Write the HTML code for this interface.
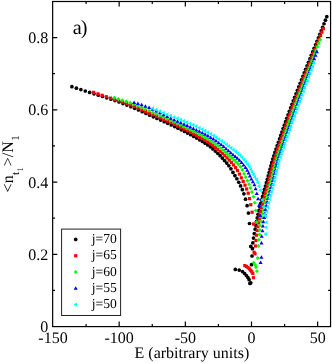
<!DOCTYPE html>
<html><head><meta charset="utf-8"><title>chart</title>
<style>
html,body{margin:0;padding:0;background:#fff;}
body{width:332px;height:363px;overflow:hidden;position:relative;font-family:"Liberation Serif",serif;}
</style></head><body>
<svg width="332" height="363" viewBox="0 0 332 363" style="position:absolute;left:0;top:0">
<rect x="0" y="0" width="332" height="363" fill="#fff"/>
<g fill="#000000" stroke="none">
<circle cx="71.90" cy="86.70" r="1.85"/>
<circle cx="76.40" cy="88.14" r="1.85"/>
<circle cx="80.86" cy="89.57" r="1.85"/>
<circle cx="85.28" cy="91.00" r="1.85"/>
<circle cx="89.66" cy="92.42" r="1.85"/>
<circle cx="94.00" cy="93.83" r="1.85"/>
<circle cx="98.30" cy="95.18" r="1.85"/>
<circle cx="102.54" cy="96.49" r="1.85"/>
<circle cx="106.74" cy="97.80" r="1.85"/>
<circle cx="110.88" cy="99.13" r="1.85"/>
<circle cx="114.97" cy="100.54" r="1.85"/>
<circle cx="119.01" cy="102.02" r="1.85"/>
<circle cx="122.99" cy="103.54" r="1.85"/>
<circle cx="126.93" cy="105.11" r="1.85"/>
<circle cx="130.82" cy="106.71" r="1.85"/>
<circle cx="134.66" cy="108.34" r="1.85"/>
<circle cx="138.45" cy="110.01" r="1.85"/>
<circle cx="142.22" cy="111.73" r="1.85"/>
<circle cx="145.95" cy="113.47" r="1.85"/>
<circle cx="149.65" cy="115.19" r="1.85"/>
<circle cx="153.33" cy="116.85" r="1.85"/>
<circle cx="156.97" cy="118.48" r="1.85"/>
<circle cx="160.59" cy="120.09" r="1.85"/>
<circle cx="164.17" cy="121.71" r="1.85"/>
<circle cx="167.73" cy="123.34" r="1.85"/>
<circle cx="171.23" cy="124.98" r="1.85"/>
<circle cx="174.65" cy="126.61" r="1.85"/>
<circle cx="177.99" cy="128.22" r="1.85"/>
<circle cx="181.25" cy="129.82" r="1.85"/>
<circle cx="184.45" cy="131.43" r="1.85"/>
<circle cx="187.60" cy="133.07" r="1.85"/>
<circle cx="190.68" cy="134.76" r="1.85"/>
<circle cx="193.72" cy="136.45" r="1.85"/>
<circle cx="196.68" cy="138.12" r="1.85"/>
<circle cx="199.57" cy="139.78" r="1.85"/>
<circle cx="202.38" cy="141.46" r="1.85"/>
<circle cx="205.12" cy="143.18" r="1.85"/>
<circle cx="207.78" cy="144.96" r="1.85"/>
<circle cx="210.38" cy="146.85" r="1.85"/>
<circle cx="212.90" cy="148.88" r="1.85"/>
<circle cx="215.35" cy="151.05" r="1.85"/>
<circle cx="217.74" cy="153.33" r="1.85"/>
<circle cx="220.07" cy="155.69" r="1.85"/>
<circle cx="222.33" cy="158.09" r="1.85"/>
<circle cx="224.54" cy="160.53" r="1.85"/>
<circle cx="226.71" cy="163.06" r="1.85"/>
<circle cx="228.84" cy="165.77" r="1.85"/>
<circle cx="230.92" cy="168.83" r="1.85"/>
<circle cx="232.96" cy="172.40" r="1.85"/>
<circle cx="234.94" cy="175.70" r="1.85"/>
<circle cx="236.87" cy="178.76" r="1.85"/>
<circle cx="238.77" cy="182.27" r="1.85"/>
<circle cx="240.58" cy="185.96" r="1.85"/>
<circle cx="242.35" cy="189.68" r="1.85"/>
<circle cx="243.90" cy="193.80" r="1.85"/>
<circle cx="245.50" cy="199.20" r="1.85"/>
<circle cx="247.10" cy="205.70" r="1.85"/>
<circle cx="248.40" cy="213.10" r="1.85"/>
<circle cx="249.50" cy="223.50" r="1.85"/>
<circle cx="250.80" cy="246.40" r="1.85"/>
<circle cx="326.80" cy="16.70" r="1.85"/>
<circle cx="325.42" cy="20.21" r="1.85"/>
<circle cx="324.02" cy="23.73" r="1.85"/>
<circle cx="322.63" cy="27.24" r="1.85"/>
<circle cx="321.21" cy="30.75" r="1.85"/>
<circle cx="319.79" cy="34.26" r="1.85"/>
<circle cx="318.37" cy="37.77" r="1.85"/>
<circle cx="316.94" cy="41.28" r="1.85"/>
<circle cx="315.51" cy="44.78" r="1.85"/>
<circle cx="314.09" cy="48.29" r="1.85"/>
<circle cx="312.68" cy="51.80" r="1.85"/>
<circle cx="311.27" cy="55.30" r="1.85"/>
<circle cx="309.86" cy="58.81" r="1.85"/>
<circle cx="308.45" cy="62.31" r="1.85"/>
<circle cx="307.05" cy="65.81" r="1.85"/>
<circle cx="305.65" cy="69.32" r="1.85"/>
<circle cx="304.25" cy="72.82" r="1.85"/>
<circle cx="302.87" cy="76.32" r="1.85"/>
<circle cx="301.48" cy="79.82" r="1.85"/>
<circle cx="300.11" cy="83.32" r="1.85"/>
<circle cx="298.74" cy="86.82" r="1.85"/>
<circle cx="297.38" cy="90.32" r="1.85"/>
<circle cx="296.01" cy="93.81" r="1.85"/>
<circle cx="294.64" cy="97.31" r="1.85"/>
<circle cx="293.29" cy="100.80" r="1.85"/>
<circle cx="291.95" cy="104.30" r="1.85"/>
<circle cx="290.62" cy="107.79" r="1.85"/>
<circle cx="289.33" cy="111.29" r="1.85"/>
<circle cx="288.05" cy="114.78" r="1.85"/>
<circle cx="286.79" cy="118.25" r="1.85"/>
<circle cx="285.55" cy="121.72" r="1.85"/>
<circle cx="284.33" cy="125.17" r="1.85"/>
<circle cx="283.12" cy="128.62" r="1.85"/>
<circle cx="281.92" cy="132.05" r="1.85"/>
<circle cx="280.74" cy="135.47" r="1.85"/>
<circle cx="279.55" cy="138.87" r="1.85"/>
<circle cx="278.36" cy="142.27" r="1.85"/>
<circle cx="277.18" cy="145.66" r="1.85"/>
<circle cx="276.02" cy="149.03" r="1.85"/>
<circle cx="274.89" cy="152.39" r="1.85"/>
<circle cx="273.80" cy="155.75" r="1.85"/>
<circle cx="272.77" cy="159.09" r="1.85"/>
<circle cx="271.81" cy="162.44" r="1.85"/>
<circle cx="270.91" cy="165.80" r="1.85"/>
<circle cx="270.03" cy="169.16" r="1.85"/>
<circle cx="269.12" cy="172.52" r="1.85"/>
<circle cx="268.21" cy="175.90" r="1.85"/>
<circle cx="267.30" cy="179.28" r="1.85"/>
<circle cx="266.37" cy="182.66" r="1.85"/>
<circle cx="265.43" cy="186.05" r="1.85"/>
<circle cx="264.47" cy="189.47" r="1.85"/>
<circle cx="263.51" cy="192.92" r="1.85"/>
<circle cx="262.56" cy="196.39" r="1.85"/>
<circle cx="261.63" cy="199.90" r="1.85"/>
<circle cx="260.70" cy="203.44" r="1.85"/>
<circle cx="259.77" cy="207.00" r="1.85"/>
<circle cx="258.86" cy="210.60" r="1.85"/>
<circle cx="258.00" cy="214.23" r="1.85"/>
<circle cx="257.22" cy="217.88" r="1.85"/>
<circle cx="256.50" cy="221.57" r="1.85"/>
<circle cx="255.83" cy="225.29" r="1.85"/>
<circle cx="255.20" cy="229.20" r="1.85"/>
<circle cx="254.30" cy="233.60" r="1.85"/>
<circle cx="253.50" cy="238.10" r="1.85"/>
<circle cx="252.80" cy="242.80" r="1.85"/>
<circle cx="252.50" cy="248.70" r="1.85"/>
<circle cx="252.00" cy="256.00" r="1.85"/>
<circle cx="251.50" cy="264.70" r="1.85"/>
<circle cx="235.30" cy="269.40" r="1.85"/>
<circle cx="239.20" cy="270.10" r="1.85"/>
<circle cx="242.50" cy="271.60" r="1.85"/>
<circle cx="244.60" cy="273.50" r="1.85"/>
<circle cx="246.40" cy="275.50" r="1.85"/>
<circle cx="247.90" cy="277.60" r="1.85"/>
<circle cx="249.10" cy="279.70" r="1.85"/>
<circle cx="249.90" cy="283.40" r="1.85"/>
<circle cx="250.80" cy="282.80" r="1.85"/>
</g>
<g fill="#ff0000" stroke="none">
<rect x="92.00" y="90.80" width="3.20" height="3.20"/>
<rect x="96.30" y="92.26" width="3.20" height="3.20"/>
<rect x="100.55" y="93.70" width="3.20" height="3.20"/>
<rect x="104.75" y="95.12" width="3.20" height="3.20"/>
<rect x="108.90" y="96.53" width="3.20" height="3.20"/>
<rect x="112.99" y="97.90" width="3.20" height="3.20"/>
<rect x="117.03" y="99.24" width="3.20" height="3.20"/>
<rect x="121.03" y="100.57" width="3.20" height="3.20"/>
<rect x="124.97" y="101.93" width="3.20" height="3.20"/>
<rect x="128.86" y="103.38" width="3.20" height="3.20"/>
<rect x="132.71" y="104.93" width="3.20" height="3.20"/>
<rect x="136.50" y="106.56" width="3.20" height="3.20"/>
<rect x="140.27" y="108.24" width="3.20" height="3.20"/>
<rect x="144.01" y="109.94" width="3.20" height="3.20"/>
<rect x="147.71" y="111.60" width="3.20" height="3.20"/>
<rect x="151.39" y="113.20" width="3.20" height="3.20"/>
<rect x="155.03" y="114.78" width="3.20" height="3.20"/>
<rect x="158.65" y="116.34" width="3.20" height="3.20"/>
<rect x="162.24" y="117.91" width="3.20" height="3.20"/>
<rect x="165.81" y="119.51" width="3.20" height="3.20"/>
<rect x="169.31" y="121.13" width="3.20" height="3.20"/>
<rect x="172.74" y="122.75" width="3.20" height="3.20"/>
<rect x="176.08" y="124.36" width="3.20" height="3.20"/>
<rect x="179.35" y="125.97" width="3.20" height="3.20"/>
<rect x="182.56" y="127.58" width="3.20" height="3.20"/>
<rect x="185.71" y="129.19" width="3.20" height="3.20"/>
<rect x="188.80" y="130.81" width="3.20" height="3.20"/>
<rect x="191.85" y="132.42" width="3.20" height="3.20"/>
<rect x="194.84" y="134.00" width="3.20" height="3.20"/>
<rect x="197.76" y="135.57" width="3.20" height="3.20"/>
<rect x="200.60" y="137.14" width="3.20" height="3.20"/>
<rect x="203.38" y="138.73" width="3.20" height="3.20"/>
<rect x="206.09" y="140.38" width="3.20" height="3.20"/>
<rect x="208.73" y="142.12" width="3.20" height="3.20"/>
<rect x="211.30" y="143.98" width="3.20" height="3.20"/>
<rect x="213.81" y="145.94" width="3.20" height="3.20"/>
<rect x="216.26" y="147.96" width="3.20" height="3.20"/>
<rect x="218.65" y="150.02" width="3.20" height="3.20"/>
<rect x="220.98" y="152.06" width="3.20" height="3.20"/>
<rect x="223.25" y="154.12" width="3.20" height="3.20"/>
<rect x="225.47" y="156.24" width="3.20" height="3.20"/>
<rect x="227.65" y="158.48" width="3.20" height="3.20"/>
<rect x="229.78" y="160.87" width="3.20" height="3.20"/>
<rect x="231.87" y="163.37" width="3.20" height="3.20"/>
<rect x="233.93" y="166.03" width="3.20" height="3.20"/>
<rect x="235.92" y="168.97" width="3.20" height="3.20"/>
<rect x="237.86" y="172.46" width="3.20" height="3.20"/>
<rect x="239.69" y="176.19" width="3.20" height="3.20"/>
<rect x="241.58" y="179.86" width="3.20" height="3.20"/>
<rect x="243.42" y="183.58" width="3.20" height="3.20"/>
<rect x="245.02" y="187.41" width="3.20" height="3.20"/>
<rect x="246.60" y="191.60" width="3.20" height="3.20"/>
<rect x="247.90" y="197.00" width="3.20" height="3.20"/>
<rect x="249.20" y="203.10" width="3.20" height="3.20"/>
<rect x="250.50" y="210.60" width="3.20" height="3.20"/>
<rect x="251.90" y="222.40" width="3.20" height="3.20"/>
<rect x="321.72" y="27.00" width="3.20" height="3.20"/>
<rect x="320.33" y="30.50" width="3.20" height="3.20"/>
<rect x="318.94" y="33.99" width="3.20" height="3.20"/>
<rect x="317.55" y="37.49" width="3.20" height="3.20"/>
<rect x="316.15" y="40.98" width="3.20" height="3.20"/>
<rect x="314.76" y="44.47" width="3.20" height="3.20"/>
<rect x="313.37" y="47.97" width="3.20" height="3.20"/>
<rect x="311.99" y="51.46" width="3.20" height="3.20"/>
<rect x="310.61" y="54.95" width="3.20" height="3.20"/>
<rect x="309.24" y="58.44" width="3.20" height="3.20"/>
<rect x="307.87" y="61.93" width="3.20" height="3.20"/>
<rect x="306.50" y="65.42" width="3.20" height="3.20"/>
<rect x="305.13" y="68.91" width="3.20" height="3.20"/>
<rect x="303.77" y="72.39" width="3.20" height="3.20"/>
<rect x="302.41" y="75.88" width="3.20" height="3.20"/>
<rect x="301.07" y="79.37" width="3.20" height="3.20"/>
<rect x="299.73" y="82.85" width="3.20" height="3.20"/>
<rect x="298.39" y="86.34" width="3.20" height="3.20"/>
<rect x="297.06" y="89.82" width="3.20" height="3.20"/>
<rect x="295.72" y="93.30" width="3.20" height="3.20"/>
<rect x="294.39" y="96.79" width="3.20" height="3.20"/>
<rect x="293.07" y="100.27" width="3.20" height="3.20"/>
<rect x="291.75" y="103.75" width="3.20" height="3.20"/>
<rect x="290.44" y="107.23" width="3.20" height="3.20"/>
<rect x="289.16" y="110.71" width="3.20" height="3.20"/>
<rect x="287.90" y="114.18" width="3.20" height="3.20"/>
<rect x="286.66" y="117.64" width="3.20" height="3.20"/>
<rect x="285.43" y="121.09" width="3.20" height="3.20"/>
<rect x="284.22" y="124.52" width="3.20" height="3.20"/>
<rect x="283.03" y="127.95" width="3.20" height="3.20"/>
<rect x="281.84" y="131.36" width="3.20" height="3.20"/>
<rect x="280.67" y="134.77" width="3.20" height="3.20"/>
<rect x="279.49" y="138.16" width="3.20" height="3.20"/>
<rect x="278.31" y="141.54" width="3.20" height="3.20"/>
<rect x="277.12" y="144.91" width="3.20" height="3.20"/>
<rect x="275.97" y="148.27" width="3.20" height="3.20"/>
<rect x="274.84" y="151.61" width="3.20" height="3.20"/>
<rect x="273.77" y="154.95" width="3.20" height="3.20"/>
<rect x="272.74" y="158.28" width="3.20" height="3.20"/>
<rect x="271.80" y="161.62" width="3.20" height="3.20"/>
<rect x="270.95" y="164.96" width="3.20" height="3.20"/>
<rect x="270.10" y="168.31" width="3.20" height="3.20"/>
<rect x="269.23" y="171.67" width="3.20" height="3.20"/>
<rect x="268.37" y="175.03" width="3.20" height="3.20"/>
<rect x="267.49" y="178.39" width="3.20" height="3.20"/>
<rect x="266.57" y="181.78" width="3.20" height="3.20"/>
<rect x="265.62" y="185.21" width="3.20" height="3.20"/>
<rect x="264.66" y="188.67" width="3.20" height="3.20"/>
<rect x="263.70" y="192.15" width="3.20" height="3.20"/>
<rect x="262.75" y="195.67" width="3.20" height="3.20"/>
<rect x="261.83" y="199.22" width="3.20" height="3.20"/>
<rect x="260.90" y="202.79" width="3.20" height="3.20"/>
<rect x="260.03" y="206.40" width="3.20" height="3.20"/>
<rect x="259.20" y="210.03" width="3.20" height="3.20"/>
<rect x="258.42" y="213.70" width="3.20" height="3.20"/>
<rect x="257.73" y="217.40" width="3.20" height="3.20"/>
<rect x="257.08" y="221.17" width="3.20" height="3.20"/>
<rect x="256.30" y="225.00" width="3.20" height="3.20"/>
<rect x="255.60" y="228.90" width="3.20" height="3.20"/>
<rect x="254.90" y="233.60" width="3.20" height="3.20"/>
<rect x="254.30" y="238.90" width="3.20" height="3.20"/>
<rect x="253.90" y="244.40" width="3.20" height="3.20"/>
<rect x="252.50" y="250.70" width="3.20" height="3.20"/>
<rect x="253.40" y="252.20" width="3.20" height="3.20"/>
<rect x="243.20" y="264.00" width="3.20" height="3.20"/>
<rect x="244.90" y="264.90" width="3.20" height="3.20"/>
<rect x="246.40" y="266.00" width="3.20" height="3.20"/>
<rect x="247.80" y="267.30" width="3.20" height="3.20"/>
<rect x="249.10" y="268.70" width="3.20" height="3.20"/>
<rect x="250.20" y="270.20" width="3.20" height="3.20"/>
<rect x="251.20" y="271.80" width="3.20" height="3.20"/>
<rect x="251.80" y="276.10" width="3.20" height="3.20"/>
</g>
<g fill="#00ff00" stroke="none">
<path d="M112.30 97.80L114.30 95.80L116.30 97.80L114.30 99.80Z"/>
<path d="M116.35 98.99L118.35 96.99L120.35 98.99L118.35 100.99Z"/>
<path d="M120.34 100.20L122.34 98.20L124.34 100.20L122.34 102.20Z"/>
<path d="M124.29 101.47L126.29 99.47L128.29 101.47L126.29 103.47Z"/>
<path d="M128.18 102.83L130.18 100.83L132.18 102.83L130.18 104.83Z"/>
<path d="M132.03 104.29L134.03 102.29L136.03 104.29L134.03 106.29Z"/>
<path d="M135.83 105.85L137.83 103.85L139.83 105.85L137.83 107.85Z"/>
<path d="M139.60 107.47L141.60 105.47L143.60 107.47L141.60 109.47Z"/>
<path d="M143.34 109.14L145.34 107.14L147.34 109.14L145.34 111.14Z"/>
<path d="M147.05 110.78L149.05 108.78L151.05 110.78L149.05 112.78Z"/>
<path d="M150.72 112.39L152.72 110.39L154.72 112.39L152.72 114.39Z"/>
<path d="M154.37 114.01L156.37 112.01L158.37 114.01L156.37 116.01Z"/>
<path d="M157.99 115.64L159.99 113.64L161.99 115.64L159.99 117.64Z"/>
<path d="M161.59 117.26L163.59 115.26L165.59 117.26L163.59 119.26Z"/>
<path d="M165.15 118.89L167.15 116.89L169.15 118.89L167.15 120.89Z"/>
<path d="M168.66 120.50L170.66 118.50L172.66 120.50L170.66 122.50Z"/>
<path d="M172.09 122.08L174.09 120.08L176.09 122.08L174.09 124.08Z"/>
<path d="M175.44 123.61L177.44 121.61L179.44 123.61L177.44 125.61Z"/>
<path d="M178.72 125.12L180.72 123.12L182.72 125.12L180.72 127.12Z"/>
<path d="M181.93 126.63L183.93 124.63L185.93 126.63L183.93 128.63Z"/>
<path d="M185.08 128.15L187.08 126.15L189.08 128.15L187.08 130.15Z"/>
<path d="M188.19 129.69L190.19 127.69L192.19 129.69L190.19 131.69Z"/>
<path d="M191.24 131.24L193.24 129.24L195.24 131.24L193.24 133.24Z"/>
<path d="M194.25 132.79L196.25 130.79L198.25 132.79L196.25 134.79Z"/>
<path d="M197.20 134.32L199.20 132.32L201.20 134.32L199.20 136.32Z"/>
<path d="M200.08 135.87L202.08 133.87L204.08 135.87L202.08 137.87Z"/>
<path d="M202.90 137.43L204.90 135.43L206.90 137.43L204.90 139.43Z"/>
<path d="M205.66 139.04L207.66 137.04L209.66 139.04L207.66 141.04Z"/>
<path d="M208.35 140.73L210.35 138.73L212.35 140.73L210.35 142.73Z"/>
<path d="M210.99 142.51L212.99 140.51L214.99 142.51L212.99 144.51Z"/>
<path d="M213.56 144.37L215.56 142.37L217.56 144.37L215.56 146.37Z"/>
<path d="M216.08 146.29L218.08 144.29L220.08 146.29L218.08 148.29Z"/>
<path d="M218.54 148.23L220.54 146.23L222.54 148.23L220.54 150.23Z"/>
<path d="M220.94 150.19L222.94 148.19L224.94 150.19L222.94 152.19Z"/>
<path d="M223.29 152.18L225.29 150.18L227.29 152.18L225.29 154.18Z"/>
<path d="M225.59 154.20L227.59 152.20L229.59 154.20L227.59 156.20Z"/>
<path d="M227.83 156.24L229.83 154.24L231.83 156.24L229.83 158.24Z"/>
<path d="M230.02 158.24L232.02 156.24L234.02 158.24L232.02 160.24Z"/>
<path d="M232.17 160.17L234.17 158.17L236.17 160.17L234.17 162.17Z"/>
<path d="M234.28 162.13L236.28 160.13L238.28 162.13L236.28 164.13Z"/>
<path d="M236.34 164.24L238.34 162.24L240.34 164.24L238.34 166.24Z"/>
<path d="M238.35 166.78L240.35 164.78L242.35 166.78L240.35 168.78Z"/>
<path d="M240.31 170.10L242.31 168.10L244.31 170.10L242.31 172.10Z"/>
<path d="M242.00 173.64L244.00 171.64L246.00 173.64L244.00 175.64Z"/>
<path d="M243.62 177.20L245.62 175.20L247.62 177.20L245.62 179.20Z"/>
<path d="M245.34 180.72L247.34 178.72L249.34 180.72L247.34 182.72Z"/>
<path d="M246.99 184.27L248.99 182.27L250.99 184.27L248.99 186.27Z"/>
<path d="M248.40 187.92L250.40 185.92L252.40 187.92L250.40 189.92Z"/>
<path d="M249.90 191.90L251.90 189.90L253.90 191.90L251.90 193.90Z"/>
<path d="M251.50 196.80L253.50 194.80L255.50 196.80L253.50 198.80Z"/>
<path d="M252.80 202.70L254.80 200.70L256.80 202.70L254.80 204.70Z"/>
<path d="M253.80 210.40L255.80 208.40L257.80 210.40L255.80 212.40Z"/>
<path d="M254.70 222.00L256.70 220.00L258.70 222.00L256.70 224.00Z"/>
<path d="M318.19 39.80L320.19 37.80L322.19 39.80L320.19 41.80Z"/>
<path d="M316.81 43.31L318.81 41.31L320.81 43.31L318.81 45.31Z"/>
<path d="M315.44 46.82L317.44 44.82L319.44 46.82L317.44 48.82Z"/>
<path d="M314.08 50.32L316.08 48.32L318.08 50.32L316.08 52.32Z"/>
<path d="M312.72 53.83L314.72 51.83L316.72 53.83L314.72 55.83Z"/>
<path d="M311.36 57.33L313.36 55.33L315.36 57.33L313.36 59.33Z"/>
<path d="M310.01 60.84L312.01 58.84L314.01 60.84L312.01 62.84Z"/>
<path d="M308.66 64.34L310.66 62.34L312.66 64.34L310.66 66.34Z"/>
<path d="M307.31 67.84L309.31 65.84L311.31 67.84L309.31 69.84Z"/>
<path d="M305.97 71.35L307.97 69.35L309.97 71.35L307.97 73.35Z"/>
<path d="M304.63 74.85L306.63 72.85L308.63 74.85L306.63 76.85Z"/>
<path d="M303.29 78.35L305.29 76.35L307.29 78.35L305.29 80.35Z"/>
<path d="M301.97 81.85L303.97 79.85L305.97 81.85L303.97 83.85Z"/>
<path d="M300.65 85.35L302.65 83.35L304.65 85.35L302.65 87.35Z"/>
<path d="M299.34 88.84L301.34 86.84L303.34 88.84L301.34 90.84Z"/>
<path d="M298.02 92.34L300.02 90.34L302.02 92.34L300.02 94.34Z"/>
<path d="M296.71 95.84L298.71 93.84L300.71 95.84L298.71 97.84Z"/>
<path d="M295.40 99.33L297.40 97.33L299.40 99.33L297.40 101.33Z"/>
<path d="M294.11 102.83L296.11 100.83L298.11 102.83L296.11 104.83Z"/>
<path d="M292.79 106.32L294.79 104.32L296.79 106.32L294.79 108.32Z"/>
<path d="M291.48 109.82L293.48 107.82L295.48 109.82L293.48 111.82Z"/>
<path d="M290.21 113.31L292.21 111.31L294.21 113.31L292.21 115.31Z"/>
<path d="M288.95 116.79L290.95 114.79L292.95 116.79L290.95 118.79Z"/>
<path d="M287.72 120.26L289.72 118.26L291.72 120.26L289.72 122.26Z"/>
<path d="M286.49 123.72L288.49 121.72L290.49 123.72L288.49 125.72Z"/>
<path d="M285.29 127.17L287.29 125.17L289.29 127.17L287.29 129.17Z"/>
<path d="M284.09 130.61L286.09 128.61L288.09 130.61L286.09 132.61Z"/>
<path d="M282.91 134.03L284.91 132.03L286.91 134.03L284.91 136.03Z"/>
<path d="M281.74 137.44L283.74 135.44L285.74 137.44L283.74 139.44Z"/>
<path d="M280.55 140.85L282.55 138.85L284.55 140.85L282.55 142.85Z"/>
<path d="M279.37 144.24L281.37 142.24L283.37 144.24L281.37 146.24Z"/>
<path d="M278.18 147.61L280.18 145.61L282.18 147.61L280.18 149.61Z"/>
<path d="M277.02 150.98L279.02 148.98L281.02 150.98L279.02 152.98Z"/>
<path d="M275.90 154.34L277.90 152.34L279.90 154.34L277.90 156.34Z"/>
<path d="M274.82 157.68L276.82 155.68L278.82 157.68L276.82 159.68Z"/>
<path d="M273.81 161.03L275.81 159.03L277.81 161.03L275.81 163.03Z"/>
<path d="M272.91 164.39L274.91 162.39L276.91 164.39L274.91 166.39Z"/>
<path d="M272.10 167.74L274.10 165.74L276.10 167.74L274.10 169.74Z"/>
<path d="M271.28 171.11L273.28 169.11L275.28 171.11L273.28 173.11Z"/>
<path d="M270.45 174.48L272.45 172.48L274.45 174.48L272.45 176.48Z"/>
<path d="M269.61 177.88L271.61 175.88L273.61 177.88L271.61 179.88Z"/>
<path d="M268.74 181.32L270.74 179.32L272.74 181.32L270.74 183.32Z"/>
<path d="M267.79 184.79L269.79 182.79L271.79 184.79L269.79 186.79Z"/>
<path d="M266.83 188.29L268.83 186.29L270.83 188.29L268.83 190.29Z"/>
<path d="M265.85 191.83L267.85 189.83L269.85 191.83L267.85 193.83Z"/>
<path d="M264.89 195.40L266.89 193.40L268.89 195.40L266.89 197.40Z"/>
<path d="M263.94 198.99L265.94 196.99L267.94 198.99L265.94 200.99Z"/>
<path d="M263.00 202.62L265.00 200.62L267.00 202.62L265.00 204.62Z"/>
<path d="M262.11 206.28L264.11 204.28L266.11 206.28L264.11 208.28Z"/>
<path d="M261.32 209.97L263.32 207.97L265.32 209.97L263.32 211.97Z"/>
<path d="M260.58 213.69L262.58 211.69L264.58 213.69L262.58 215.69Z"/>
<path d="M259.91 217.51L261.91 215.51L263.91 217.51L261.91 219.51Z"/>
<path d="M259.29 221.48L261.29 219.48L263.29 221.48L261.29 223.48Z"/>
<path d="M257.80 225.60L259.80 223.60L261.80 225.60L259.80 227.60Z"/>
<path d="M257.80 229.90L259.80 227.90L261.80 229.90L259.80 231.90Z"/>
<path d="M257.60 234.50L259.60 232.50L261.60 234.50L259.60 236.50Z"/>
<path d="M256.80 239.80L258.80 237.80L260.80 239.80L258.80 241.80Z"/>
<path d="M256.40 246.00L258.40 244.00L260.40 246.00L258.40 248.00Z"/>
<path d="M255.60 257.90L257.60 255.90L259.60 257.90L257.60 259.90Z"/>
<path d="M251.80 262.70L253.80 260.70L255.80 262.70L253.80 264.70Z"/>
<path d="M253.20 265.00L255.20 263.00L257.20 265.00L255.20 267.00Z"/>
<path d="M254.00 267.30L256.00 265.30L258.00 267.30L256.00 269.30Z"/>
<path d="M254.90 271.20L256.90 269.20L258.90 271.20L256.90 273.20Z"/>
</g>
<g fill="#0000ff" stroke="none">
<path d="M132.05 103.90L134.10 100.40L136.15 103.90Z"/>
<path d="M135.85 105.10L137.90 101.60L139.95 105.10Z"/>
<path d="M139.62 106.33L141.67 102.83L143.72 106.33Z"/>
<path d="M143.36 107.63L145.41 104.13L147.46 107.63Z"/>
<path d="M147.06 109.07L149.11 105.57L151.16 109.07Z"/>
<path d="M150.74 110.68L152.79 107.18L154.84 110.68Z"/>
<path d="M154.39 112.43L156.44 108.93L158.49 112.43Z"/>
<path d="M158.01 114.30L160.06 110.80L162.11 114.30Z"/>
<path d="M161.60 116.20L163.65 112.70L165.70 116.20Z"/>
<path d="M165.16 118.04L167.21 114.54L169.26 118.04Z"/>
<path d="M168.67 119.74L170.72 116.24L172.77 119.74Z"/>
<path d="M172.10 121.30L174.15 117.80L176.20 121.30Z"/>
<path d="M175.45 122.79L177.50 119.29L179.55 122.79Z"/>
<path d="M178.73 124.23L180.78 120.73L182.83 124.23Z"/>
<path d="M181.94 125.64L183.99 122.14L186.04 125.64Z"/>
<path d="M185.09 127.07L187.14 123.57L189.19 127.07Z"/>
<path d="M188.19 128.52L190.24 125.02L192.29 128.52Z"/>
<path d="M191.26 129.97L193.31 126.47L195.36 129.97Z"/>
<path d="M194.28 131.42L196.33 127.92L198.38 131.42Z"/>
<path d="M197.26 132.86L199.31 129.36L201.36 132.86Z"/>
<path d="M200.18 134.30L202.23 130.80L204.28 134.30Z"/>
<path d="M203.04 135.77L205.09 132.27L207.14 135.77Z"/>
<path d="M205.85 137.29L207.90 133.79L209.95 137.29Z"/>
<path d="M208.60 138.89L210.65 135.39L212.70 138.89Z"/>
<path d="M211.29 140.56L213.34 137.06L215.39 140.56Z"/>
<path d="M213.93 142.31L215.98 138.81L218.03 142.31Z"/>
<path d="M216.52 144.14L218.57 140.64L220.62 144.14Z"/>
<path d="M219.06 146.06L221.11 142.56L223.16 146.06Z"/>
<path d="M221.55 148.10L223.60 144.60L225.65 148.10Z"/>
<path d="M223.97 150.20L226.02 146.70L228.07 150.20Z"/>
<path d="M226.36 152.31L228.41 148.81L230.46 152.31Z"/>
<path d="M228.68 154.32L230.73 150.82L232.78 154.32Z"/>
<path d="M230.94 156.18L232.99 152.68L235.04 156.18Z"/>
<path d="M233.15 157.98L235.20 154.48L237.25 157.98Z"/>
<path d="M235.31 159.80L237.36 156.30L239.41 159.80Z"/>
<path d="M237.43 161.75L239.48 158.25L241.53 161.75Z"/>
<path d="M239.51 163.96L241.56 160.46L243.61 163.96Z"/>
<path d="M241.55 166.38L243.60 162.88L245.65 166.38Z"/>
<path d="M243.47 168.96L245.52 165.46L247.57 168.96Z"/>
<path d="M245.16 171.68L247.21 168.18L249.26 171.68Z"/>
<path d="M246.56 174.57L248.61 171.07L250.66 174.57Z"/>
<path d="M247.84 177.51L249.89 174.01L251.94 177.51Z"/>
<path d="M249.28 180.38L251.33 176.88L253.38 180.38Z"/>
<path d="M250.81 183.20L252.86 179.70L254.91 183.20Z"/>
<path d="M252.35 186.30L254.40 182.80L256.45 186.30Z"/>
<path d="M253.55 190.30L255.60 186.80L257.65 190.30Z"/>
<path d="M254.75 194.90L256.80 191.40L258.85 194.90Z"/>
<path d="M256.05 200.30L258.10 196.80L260.15 200.30Z"/>
<path d="M256.95 206.80L259.00 203.30L261.05 206.80Z"/>
<path d="M258.05 217.10L260.10 213.60L262.15 217.10Z"/>
<path d="M314.83 53.20L316.88 49.70L318.93 53.20Z"/>
<path d="M313.49 56.73L315.54 53.23L317.59 56.73Z"/>
<path d="M312.15 60.27L314.20 56.77L316.25 60.27Z"/>
<path d="M310.81 63.80L312.86 60.30L314.91 63.80Z"/>
<path d="M309.48 67.33L311.53 63.83L313.58 67.33Z"/>
<path d="M308.15 70.86L310.20 67.36L312.25 70.86Z"/>
<path d="M306.82 74.39L308.87 70.89L310.92 74.39Z"/>
<path d="M305.50 77.92L307.55 74.42L309.60 77.92Z"/>
<path d="M304.19 81.45L306.24 77.95L308.29 81.45Z"/>
<path d="M302.89 84.97L304.94 81.47L306.99 84.97Z"/>
<path d="M301.59 88.50L303.64 85.00L305.69 88.50Z"/>
<path d="M300.29 92.03L302.34 88.53L304.39 92.03Z"/>
<path d="M298.99 95.55L301.04 92.05L303.09 95.55Z"/>
<path d="M297.69 99.08L299.74 95.58L301.79 99.08Z"/>
<path d="M296.41 102.60L298.46 99.10L300.51 102.60Z"/>
<path d="M295.10 106.12L297.15 102.62L299.20 106.12Z"/>
<path d="M293.79 109.65L295.84 106.15L297.89 109.65Z"/>
<path d="M292.50 113.17L294.55 109.67L296.60 113.17Z"/>
<path d="M291.23 116.68L293.28 113.18L295.33 116.68Z"/>
<path d="M289.98 120.18L292.03 116.68L294.08 120.18Z"/>
<path d="M288.74 123.68L290.79 120.18L292.84 123.68Z"/>
<path d="M287.53 127.16L289.58 123.66L291.63 127.16Z"/>
<path d="M286.32 130.62L288.37 127.12L290.42 130.62Z"/>
<path d="M285.13 134.08L287.18 130.58L289.23 134.08Z"/>
<path d="M283.95 137.52L286.00 134.02L288.05 137.52Z"/>
<path d="M282.76 140.96L284.81 137.46L286.86 140.96Z"/>
<path d="M281.58 144.38L283.63 140.88L285.68 144.38Z"/>
<path d="M280.36 147.79L282.41 144.29L284.46 147.79Z"/>
<path d="M279.17 151.19L281.22 147.69L283.27 151.19Z"/>
<path d="M278.02 154.57L280.07 151.07L282.12 154.57Z"/>
<path d="M276.92 157.95L278.97 154.45L281.02 157.95Z"/>
<path d="M275.87 161.32L277.92 157.82L279.97 161.32Z"/>
<path d="M274.91 164.70L276.96 161.20L279.01 164.70Z"/>
<path d="M274.13 168.09L276.18 164.59L278.23 168.09Z"/>
<path d="M273.34 171.48L275.39 167.98L277.44 171.48Z"/>
<path d="M272.53 174.91L274.58 171.41L276.63 174.91Z"/>
<path d="M271.71 178.38L273.76 174.88L275.81 178.38Z"/>
<path d="M270.88 181.88L272.93 178.38L274.98 181.88Z"/>
<path d="M269.93 185.42L271.98 181.92L274.03 185.42Z"/>
<path d="M268.96 188.99L271.01 185.49L273.06 188.99Z"/>
<path d="M267.97 192.60L270.02 189.10L272.07 192.60Z"/>
<path d="M266.99 196.23L269.04 192.73L271.09 196.23Z"/>
<path d="M266.03 199.90L268.08 196.40L270.13 199.90Z"/>
<path d="M265.08 203.60L267.13 200.10L269.18 203.60Z"/>
<path d="M264.19 207.33L266.24 203.83L268.29 207.33Z"/>
<path d="M263.46 211.10L265.51 207.60L267.56 211.10Z"/>
<path d="M262.76 215.01L264.81 211.51L266.86 215.01Z"/>
<path d="M262.13 219.08L264.18 215.58L266.23 219.08Z"/>
<path d="M261.35 223.30L263.40 219.80L265.45 223.30Z"/>
<path d="M260.85 227.40L262.90 223.90L264.95 227.40Z"/>
<path d="M260.45 232.30L262.50 228.80L264.55 232.30Z"/>
<path d="M259.65 237.80L261.70 234.30L263.75 237.80Z"/>
<path d="M259.45 244.50L261.50 241.00L263.55 244.50Z"/>
<path d="M259.35 258.70L261.40 255.20L263.45 258.70Z"/>
<path d="M258.55 264.00L260.60 260.50L262.65 264.00Z"/>
</g>
<g fill="#00ffff" stroke="none">
<path d="M150.50 108.30L154.00 106.15L154.00 110.45Z"/>
<path d="M154.15 109.74L157.65 107.59L157.65 111.89Z"/>
<path d="M157.77 111.26L161.27 109.11L161.27 113.41Z"/>
<path d="M161.36 112.83L164.86 110.68L164.86 114.98Z"/>
<path d="M164.93 114.39L168.43 112.24L168.43 116.54Z"/>
<path d="M168.44 115.86L171.94 113.71L171.94 118.01Z"/>
<path d="M171.87 117.22L175.37 115.07L175.37 119.37Z"/>
<path d="M175.22 118.51L178.72 116.36L178.72 120.66Z"/>
<path d="M178.50 119.75L182.00 117.60L182.00 121.90Z"/>
<path d="M181.71 120.99L185.21 118.84L185.21 123.14Z"/>
<path d="M184.86 122.25L188.36 120.10L188.36 124.40Z"/>
<path d="M187.97 123.58L191.47 121.43L191.47 125.73Z"/>
<path d="M191.05 124.96L194.55 122.81L194.55 127.11Z"/>
<path d="M194.09 126.36L197.59 124.21L197.59 128.51Z"/>
<path d="M197.09 127.80L200.59 125.65L200.59 129.95Z"/>
<path d="M200.05 129.26L203.55 127.11L203.55 131.41Z"/>
<path d="M202.96 130.75L206.46 128.60L206.46 132.90Z"/>
<path d="M205.81 132.28L209.31 130.13L209.31 134.43Z"/>
<path d="M208.62 133.88L212.12 131.73L212.12 136.03Z"/>
<path d="M211.38 135.55L214.88 133.40L214.88 137.70Z"/>
<path d="M214.10 137.30L217.60 135.15L217.60 139.45Z"/>
<path d="M216.77 139.09L220.27 136.94L220.27 141.24Z"/>
<path d="M219.39 140.90L222.89 138.75L222.89 143.05Z"/>
<path d="M221.97 142.72L225.47 140.57L225.47 144.87Z"/>
<path d="M224.32 144.45L227.82 142.30L227.82 146.60Z"/>
<path d="M226.65 146.21L230.15 144.06L230.15 148.36Z"/>
<path d="M228.96 148.00L232.46 145.85L232.46 150.15Z"/>
<path d="M231.26 149.80L234.76 147.65L234.76 151.95Z"/>
<path d="M233.54 151.63L237.04 149.48L237.04 153.78Z"/>
<path d="M235.77 153.52L239.27 151.37L239.27 155.67Z"/>
<path d="M237.91 155.51L241.41 153.36L241.41 157.66Z"/>
<path d="M239.95 157.60L243.45 155.45L243.45 159.75Z"/>
<path d="M241.93 159.75L245.43 157.60L245.43 161.90Z"/>
<path d="M243.82 161.98L247.32 159.83L247.32 164.13Z"/>
<path d="M245.58 164.30L249.08 162.15L249.08 166.45Z"/>
<path d="M247.19 166.75L250.69 164.60L250.69 168.90Z"/>
<path d="M248.63 169.28L252.13 167.13L252.13 171.43Z"/>
<path d="M249.96 171.88L253.46 169.73L253.46 174.03Z"/>
<path d="M251.24 174.51L254.74 172.36L254.74 176.66Z"/>
<path d="M252.52 177.14L256.02 174.99L256.02 179.29Z"/>
<path d="M254.40 179.60L257.90 177.45L257.90 181.75Z"/>
<path d="M255.70 182.60L259.20 180.45L259.20 184.75Z"/>
<path d="M256.90 186.20L260.40 184.05L260.40 188.35Z"/>
<path d="M258.20 190.30L261.70 188.15L261.70 192.45Z"/>
<path d="M260.10 199.90L263.60 197.75L263.60 202.05Z"/>
<path d="M261.60 207.00L265.10 204.85L265.10 209.15Z"/>
<path d="M262.40 214.50L265.90 212.35L265.90 216.65Z"/>
<path d="M311.70 62.85L315.20 60.70L315.20 65.00Z"/>
<path d="M310.39 66.38L313.89 64.23L313.89 68.53Z"/>
<path d="M309.08 69.91L312.58 67.76L312.58 72.06Z"/>
<path d="M307.77 73.44L311.27 71.29L311.27 75.59Z"/>
<path d="M306.47 76.97L309.97 74.82L309.97 79.12Z"/>
<path d="M305.18 80.50L308.68 78.35L308.68 82.65Z"/>
<path d="M303.90 84.02L307.40 81.87L307.40 86.17Z"/>
<path d="M302.62 87.55L306.12 85.40L306.12 89.70Z"/>
<path d="M301.34 91.08L304.84 88.93L304.84 93.23Z"/>
<path d="M300.06 94.60L303.56 92.45L303.56 96.75Z"/>
<path d="M298.79 98.13L302.29 95.98L302.29 100.28Z"/>
<path d="M297.53 101.65L301.03 99.50L301.03 103.80Z"/>
<path d="M296.23 105.17L299.73 103.02L299.73 107.32Z"/>
<path d="M294.92 108.70L298.42 106.55L298.42 110.85Z"/>
<path d="M293.63 112.22L297.13 110.07L297.13 114.37Z"/>
<path d="M292.37 115.73L295.87 113.58L295.87 117.88Z"/>
<path d="M291.12 119.23L294.62 117.08L294.62 121.38Z"/>
<path d="M289.89 122.73L293.39 120.58L293.39 124.88Z"/>
<path d="M288.68 126.21L292.18 124.06L292.18 128.36Z"/>
<path d="M287.48 129.67L290.98 127.52L290.98 131.82Z"/>
<path d="M286.29 133.13L289.79 130.98L289.79 135.28Z"/>
<path d="M285.12 136.57L288.62 134.42L288.62 138.72Z"/>
<path d="M283.93 140.01L287.43 137.86L287.43 142.16Z"/>
<path d="M282.74 143.43L286.24 141.28L286.24 145.58Z"/>
<path d="M281.53 146.84L285.03 144.69L285.03 148.99Z"/>
<path d="M280.33 150.24L283.83 148.09L283.83 152.39Z"/>
<path d="M279.18 153.62L282.68 151.47L282.68 155.77Z"/>
<path d="M278.07 157.00L281.57 154.85L281.57 159.15Z"/>
<path d="M277.02 160.37L280.52 158.22L280.52 162.52Z"/>
<path d="M276.09 163.75L279.59 161.60L279.59 165.90Z"/>
<path d="M275.34 167.14L278.84 164.99L278.84 169.29Z"/>
<path d="M274.58 170.53L278.08 168.38L278.08 172.68Z"/>
<path d="M273.80 173.96L277.30 171.81L277.30 176.11Z"/>
<path d="M273.01 177.43L276.51 175.28L276.51 179.58Z"/>
<path d="M272.20 180.93L275.70 178.78L275.70 183.08Z"/>
<path d="M271.25 184.47L274.75 182.32L274.75 186.62Z"/>
<path d="M270.28 188.04L273.78 185.89L273.78 190.19Z"/>
<path d="M269.30 191.65L272.80 189.50L272.80 193.80Z"/>
<path d="M268.33 195.28L271.83 193.13L271.83 197.43Z"/>
<path d="M267.38 198.95L270.88 196.80L270.88 201.10Z"/>
<path d="M266.36 202.97L269.86 200.82L269.86 205.12Z"/>
<path d="M265.45 207.14L268.95 204.99L268.95 209.29Z"/>
<path d="M264.68 211.60L268.18 209.45L268.18 213.75Z"/>
<path d="M263.94 216.53L267.44 214.38L267.44 218.68Z"/>
<path d="M264.20 222.30L267.70 220.15L267.70 224.45Z"/>
<path d="M263.90 227.40L267.40 225.25L267.40 229.55Z"/>
<path d="M263.40 234.20L266.90 232.05L266.90 236.35Z"/>
</g>
<g stroke="#000" stroke-width="1.2" fill="none" stroke-linecap="butt">
<rect x="52.65" y="1.5" width="277.90000000000003" height="325.1"/>
<path d="M86.09 326.6V324.0M86.09 1.5V4.1"/>
<path d="M119.17 326.6V321.6M119.17 1.5V6.5"/>
<path d="M152.25 326.6V324.0M152.25 1.5V4.1"/>
<path d="M185.34 326.6V321.6M185.34 1.5V6.5"/>
<path d="M218.42 326.6V324.0M218.42 1.5V4.1"/>
<path d="M251.50 326.6V321.6M251.50 1.5V6.5"/>
<path d="M284.58 326.6V324.0M284.58 1.5V4.1"/>
<path d="M317.66 326.6V321.6M317.66 1.5V6.5"/>
<path d="M52.65 290.47H55.05M330.55 290.47H328.15000000000003"/>
<path d="M52.65 254.34H57.25M330.55 254.34H325.95"/>
<path d="M52.65 218.21H55.05M330.55 218.21H328.15000000000003"/>
<path d="M52.65 182.08H57.25M330.55 182.08H325.95"/>
<path d="M52.65 145.95H55.05M330.55 145.95H328.15000000000003"/>
<path d="M52.65 109.82H57.25M330.55 109.82H325.95"/>
<path d="M52.65 73.69H55.05M330.55 73.69H328.15000000000003"/>
<path d="M52.65 37.56H57.25M330.55 37.56H325.95"/>
</g>
<rect x="61.6" y="229.1" width="59.0" height="86.4" fill="#fff" stroke="#222" stroke-width="1.0"/>
<g fill="#000000"><circle cx="75.70" cy="239.45" r="1.85"/></g>
<g fill="#ff0000"><rect x="74.10" y="254.15" width="3.20" height="3.20"/></g>
<g fill="#00ff00"><path d="M73.70 272.05L75.70 270.05L77.70 272.05L75.70 274.05Z"/></g>
<g fill="#0000ff"><path d="M73.65 289.65L75.70 286.15L77.75 289.65Z"/></g>
<g fill="#00ffff"><path d="M73.50 304.65L77.00 302.50L77.00 306.80Z"/></g>
<g font-family="'Liberation Serif', serif" font-size="16px" fill="#000" text-rendering="geometricPrecision" style="filter:grayscale(1)">
<text x="91.7" y="242.95" font-size="13.6px">j=70</text>
<text x="91.7" y="259.28" font-size="13.6px">j=65</text>
<text x="91.7" y="275.61" font-size="13.6px">j=60</text>
<text x="91.7" y="291.94" font-size="13.6px">j=55</text>
<text x="91.7" y="308.27" font-size="13.6px">j=50</text>
<text x="53.01" y="343.2" text-anchor="middle">-150</text>
<text x="119.17" y="343.2" text-anchor="middle">-100</text>
<text x="185.34" y="343.2" text-anchor="middle">-50</text>
<text x="251.50" y="343.2" text-anchor="middle">0</text>
<text x="317.66" y="343.2" text-anchor="middle">50</text>
<text x="48.2" y="332.20" text-anchor="end">0</text>
<text x="48.2" y="259.94" text-anchor="end">0.2</text>
<text x="48.2" y="187.68" text-anchor="end">0.4</text>
<text x="48.2" y="115.42" text-anchor="end">0.6</text>
<text x="48.2" y="43.16" text-anchor="end">0.8</text>
<text x="191.9" y="358.2" text-anchor="middle">E (arbitrary units)</text>
<text x="72.7" y="34.2" font-size="20.2px">a<tspan dx="-0.8">)</tspan></text>
<g transform="translate(12.6,163.8) rotate(-90)"><text x="0" y="0" text-anchor="middle">&lt;n<tspan font-size="11px" dy="6.2" dx="0.3">t</tspan><tspan font-size="8.5px" dy="4.3" dx="0.4">1</tspan><tspan dy="-10.5" dx="1.0">&gt;/N</tspan><tspan font-size="11px" dy="6.6" dx="0.6">1</tspan></text></g>
</g>
</svg>
</body></html>
